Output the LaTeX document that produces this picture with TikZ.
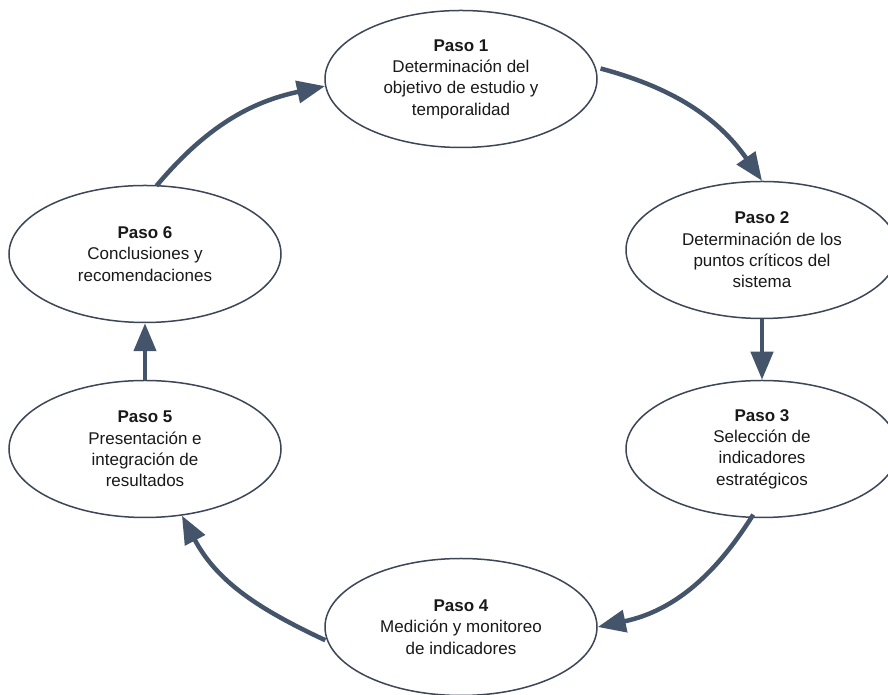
\documentclass[tikz,border=0pt]{standalone}
\usepackage{fontspec}
\setmainfont{Liberation Sans}
\usetikzlibrary{shapes.geometric,arrows.meta}
\definecolor{slate}{HTML}{44546A}
\definecolor{rim}{HTML}{3C4656}
\begin{document}
\begin{tikzpicture}[x=1pt,y=1pt,
  stepnode/.style={ellipse, draw=rim, line width=1.5pt, fill=white,
    minimum width=272pt, minimum height=137pt, inner sep=0pt,
    align=center, font=\fontsize{17}{21.3}\selectfont, text=black!90},
  flow/.style={draw=slate, line width=4.5pt,
    -{Triangle[length=28pt,width=22pt]}}]
\useasboundingbox[fill=white] (0,0) rectangle (888,695);
\node[stepnode] (p1) at (461,616) {\textbf{Paso 1}\\Determinación del\\objetivo de estudio y\\temporalidad};
\node[stepnode] (p2) at (762,445) {\textbf{Paso 2}\\Determinación de los\\puntos críticos del\\sistema};
\node[stepnode] (p3) at (762,246) {\textbf{Paso 3}\\Selección de\\indicadores\\estratégicos};
\node[stepnode] (p4) at (461,68) {\textbf{Paso 4}\\Medición y monitoreo\\de indicadores};
\node[stepnode] (p5) at (145,246) {\textbf{Paso 5}\\Presentación e\\integración de\\resultados};
\node[stepnode] (p6) at (145,441) {\textbf{Paso 6}\\Conclusiones y\\recomendaciones};
\draw[flow, shorten <=-1pt] (p6.80) to[out=50, in=192] (p1.183);
\draw[flow, shorten <=5pt] (p1.5) to[out=-15, in=125] (p2.north);
\draw[flow] (p2.south) -- (p3.north);
\draw[flow, shorten <=-4pt] (p3.261) to[out=238, in=12] (p4.east);
\draw[flow, shorten <=2pt] (p4.186) to[out=155, in=298] (p5.299);
\draw[flow] (p5.north) -- (p6.south);
\end{tikzpicture}
\end{document}
